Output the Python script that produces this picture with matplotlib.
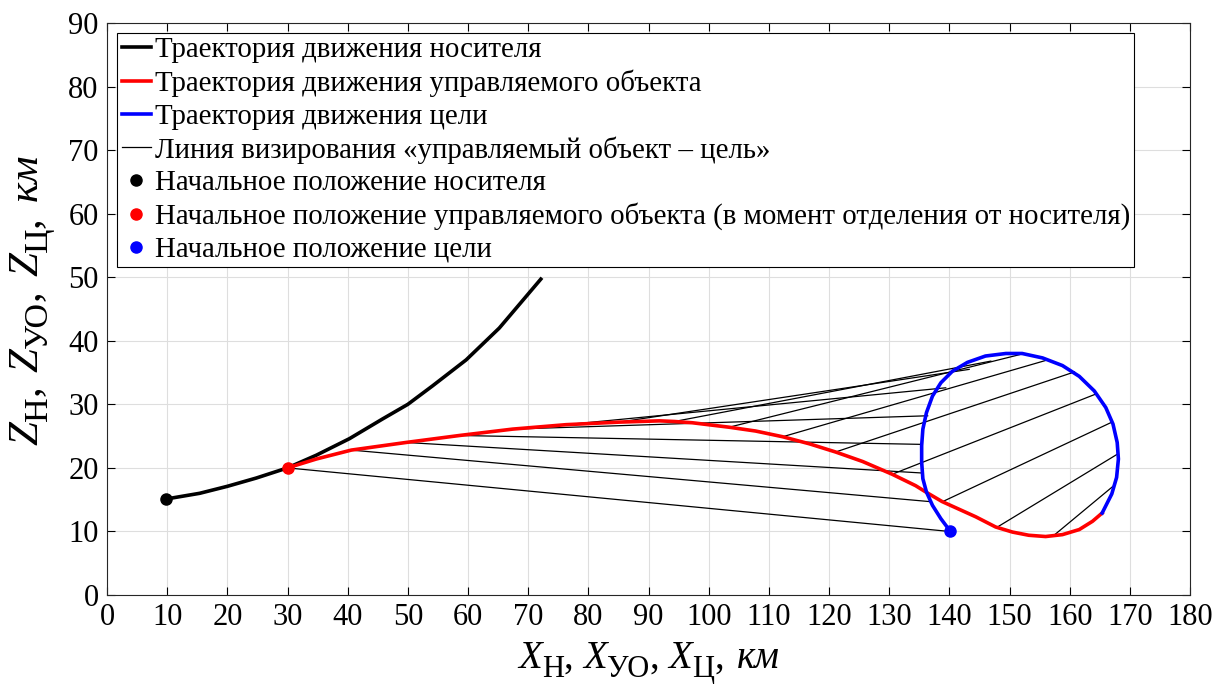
import matplotlib
matplotlib.use("Agg")
import matplotlib.pyplot as plt
from matplotlib.lines import Line2D

plt.rcParams['font.family'] = ['Liberation Serif', 'DejaVu Serif']

# Carrier trajectory (Н)
carrier_x = [9.8, 15.4, 20.0, 24.8, 30.0, 34.8, 40.3, 45.8, 50.0, 54.1, 59.7, 65.2, 72.1]
carrier_z = [15.1, 16.0, 17.1, 18.4, 20.0, 22.0, 24.6, 27.7, 30.0, 32.9, 37.0, 42.0, 49.7]

# Controlled object trajectory (УО)
obj_x = [30.0, 34.8, 40.6, 49.7, 58.6, 67.4, 76.3, 85.1, 91.8, 94.3, 97.3, 103.4, 107.8, 112.3,
         116.7, 121.1, 125.6, 130.5, 134.4, 136.1, 138.8, 141.6, 144.4, 147.7, 150.5, 153.2,
         156.0, 158.8, 161.6, 163.8, 165.4]
obj_z = [20.0, 21.4, 22.8, 24.0, 25.1, 26.1, 26.8, 27.2, 27.4, 27.3, 27.1, 26.4, 25.8, 24.9,
         23.8, 22.5, 21.0, 19.0, 17.2, 16.2, 14.7, 13.5, 12.3, 10.7, 9.9, 9.4,
         9.2, 9.5, 10.3, 11.6, 12.9]

# Target trajectory (Ц)
tgt_x = [140.1, 138.6, 137.2, 136.2, 135.6, 135.4, 135.4, 135.6, 136.2, 137.2, 138.6, 140.5,
         143.0, 146.0, 149.4, 152.1, 155.5, 158.8, 161.6, 164.1, 166.0, 167.2, 167.9, 168.1,
         167.8, 167.0, 165.4]
tgt_z = [10.1, 12.0, 14.1, 16.2, 18.3, 20.9, 23.5, 26.1, 28.7, 31.3, 33.4, 35.2,
         36.6, 37.6, 38.0, 38.0, 37.3, 36.1, 34.4, 32.1, 29.5, 26.9, 24.0, 21.4,
         18.5, 15.9, 12.9]

# Line-of-sight endpoints at equal time steps: object position -> target position
los_obj_x = [30.0, 40.6, 49.7, 58.6, 67.4, 76.3, 85.1, 94.3, 103.4, 112.3, 121.1, 130.5, 138.9, 148.0, 157.4]
los_obj_z = [20.0, 22.8, 24.0, 25.1, 26.1, 26.8, 27.2, 27.3, 26.4, 24.9, 22.5, 19.0, 14.7, 10.7, 9.4]
los_tgt_x = [140.0, 136.7, 135.4, 135.4, 136.4, 139.4, 143.3, 146.9, 151.6, 156.0, 160.8, 164.3, 166.8, 168.0, 167.2]
los_tgt_z = [10.0, 14.7, 19.2, 23.7, 28.2, 32.6, 35.5, 36.8, 37.8, 36.9, 35.1, 31.6, 27.1, 22.2, 17.1]

labels = [
    "Траектория движения носителя",
    "Траектория движения управляемого объекта",
    "Траектория движения цели",
    "Линия визирования «управляемый объект – цель»",
    "Начальное положение носителя",
    "Начальное положение управляемого объекта (в момент отделения от носителя)",
    "Начальное положение цели",
]

W, H = 1218, 695
fig = plt.figure(figsize=(W / 100, H / 100), dpi=100)
ax = fig.add_axes([107 / W, 1 - 595 / H, (1190 - 107) / W, (595 - 23) / H])

for i in range(len(los_obj_x)):
    ax.plot([los_obj_x[i], los_tgt_x[i]], [los_obj_z[i], los_tgt_z[i]], color='black', lw=0.9, zorder=2)

ax.plot(carrier_x, carrier_z, color='black', lw=2.6, zorder=3, solid_joinstyle='round')
ax.plot(obj_x, obj_z, color='red', lw=2.6, zorder=3, solid_joinstyle='round')
ax.plot(tgt_x, tgt_z, color='blue', lw=2.6, zorder=3, solid_joinstyle='round')

ax.plot(carrier_x[0], carrier_z[0], 'o', color='black', ms=8, zorder=4)
ax.plot(obj_x[0], obj_z[0], 'o', color='red', ms=8, zorder=4)
ax.plot(tgt_x[0], tgt_z[0], 'o', color='blue', ms=8, zorder=4)

ax.set_xlim(0, 180)
ax.set_ylim(0, 90)
ax.set_xticks(range(0, 181, 10))
ax.set_yticks(range(0, 91, 10))
ax.grid(True, color='#dedede', lw=0.8)
ax.set_axisbelow(True)
ax.tick_params(direction='in', top=True, right=True, labelsize=22, length=6, width=0.8, pad=6)
for s in ax.spines.values():
    s.set_linewidth(0.8)
    s.set_color('#262626')


def chain_label(pieces, x0, y0, main, sub, shift, vertical=False):
    """pieces: list of (text, italic, is_sub, gap_pt_before)."""
    prev = None
    prev_bottom = 0.0
    for txt, italic, is_sub, gap in pieces:
        size = sub if is_sub else main
        base = -shift if is_sub else 0.0
        bottom = base - 0.217 * size
        style = 'italic' if italic else 'normal'
        if prev is None:
            prev = fig.text(x0 / W, 1 - y0 / H, txt, fontsize=size, style=style,
                            rotation=90 if vertical else 0, rotation_mode='anchor',
                            ha='left', va='baseline')
            prev_bottom = bottom
            continue
        dy = bottom - prev_bottom
        if vertical:
            t = ax.annotate(txt, xy=(1, 1), xycoords=prev, xytext=(-dy, gap),
                            textcoords='offset points', fontsize=size, style=style,
                            rotation=90, rotation_mode='anchor', ha='left', va='bottom',
                            annotation_clip=False)
        else:
            t = ax.annotate(txt, xy=(1, 0), xycoords=prev, xytext=(gap, dy),
                            textcoords='offset points', fontsize=size, style=style,
                            ha='left', va='bottom', annotation_clip=False)
        prev = t
        prev_bottom = bottom


def label_pieces(sym, gap):
    return [
        (sym, True, False, 0), ('Н', False, True, 0), (',', False, False, 0),
        (sym, True, False, gap), ('УО', False, True, 0), (',', False, False, 0),
        (sym, True, False, gap), ('Ц', False, True, 0), (',', False, False, 0),
        ('км', True, False, gap + 2),
    ]


chain_label(label_pieces('X', 7), 518, 668, 28, 22, 6.5)
chain_label(label_pieces('Z', 10), 37, 445, 31, 24.5, 7, vertical=True)

handles = [
    Line2D([], [], color='black', lw=2.6),
    Line2D([], [], color='red', lw=2.6),
    Line2D([], [], color='blue', lw=2.6),
    Line2D([], [], color='black', lw=0.9),
    Line2D([], [], color='black', marker='o', ls='none', ms=8),
    Line2D([], [], color='red', marker='o', ls='none', ms=8),
    Line2D([], [], color='blue', marker='o', ls='none', ms=8),
]
leg = ax.legend(handles, labels, loc='upper left', bbox_to_anchor=(0.0095, 0.983),
                fontsize=20.8, frameon=True, fancybox=False, framealpha=1,
                edgecolor='black', borderpad=0.15, labelspacing=0.22,
                handlelength=1.0, handletextpad=0.15, borderaxespad=0)
leg.get_frame().set_linewidth(0.8)

fig.savefig('out.png', dpi=100)
